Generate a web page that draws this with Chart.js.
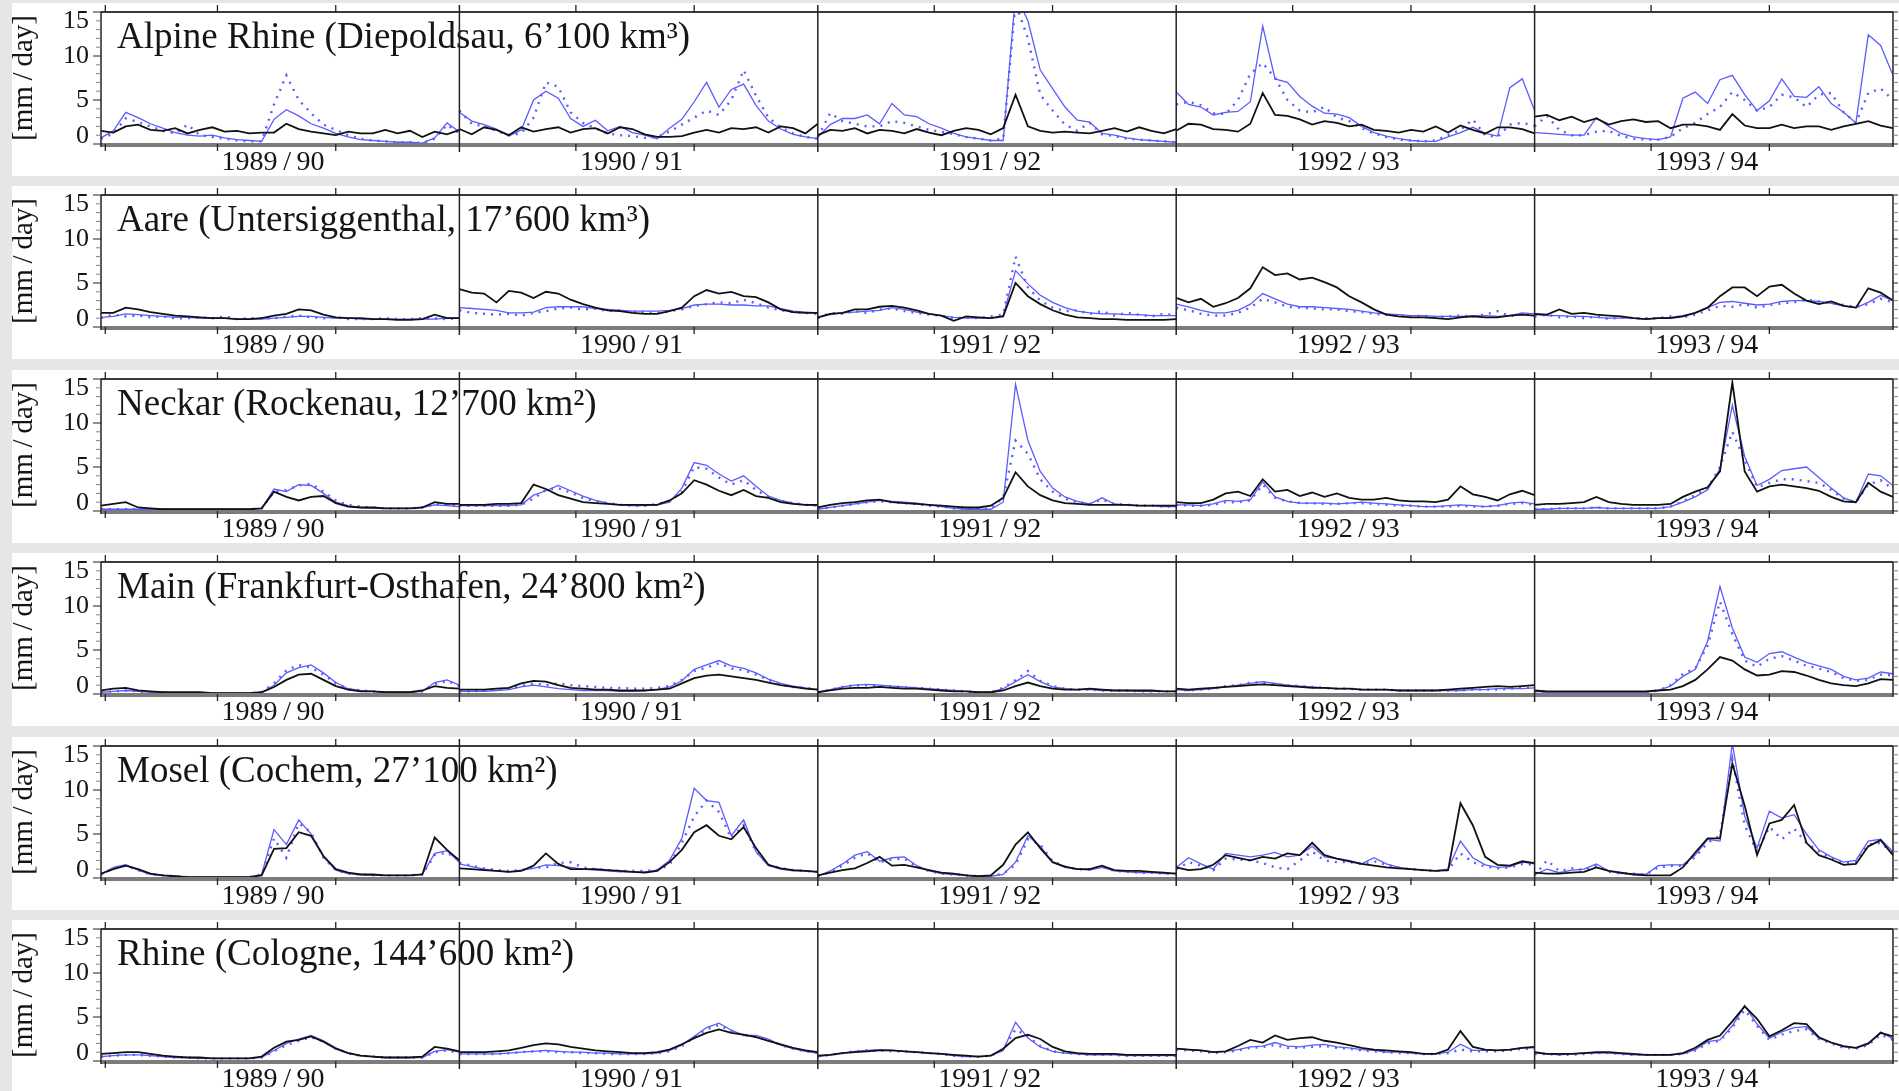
<!DOCTYPE html>
<html>
<head>
<meta charset="utf-8">
<script src="https://cdn.jsdelivr.net/npm/chart.js@4.4.0/dist/chart.umd.min.js"></script>
<style>
  html, body { margin: 0; padding: 0; background: #e6e6e6; }
  body { width: 1899px; height: 1091px; position: relative; overflow: hidden; }
  .row { position: absolute; left: 12px; width: 1887px; height: 173px; background: #fff; }
</style>
</head>
<body>
<script>
// hydrological years, one panel column each
const years = ["1989/90", "1990/91", "1991/92", "1992/93", "1993/94"];
const rivers = [
  "Alpine Rhine (Diepoldsau, 6\u2019100 km\u00b3)",
  "Aare (Untersiggenthal, 17\u2019600 km\u00b3)",
  "Neckar (Rockenau, 12\u2019700 km\u00b2)",
  "Main (Frankfurt-Osthafen, 24\u2019800 km\u00b2)",
  "Mosel (Cochem, 27\u2019100 km\u00b2)",
  "Rhine (Cologne, 144\u2019600 km\u00b2)"
];
const yTicks = [0, 5, 10, 15];
const yLabel = "[mm/day]";

// runoff in mm/day, 30 samples per year (black line, blue line, blue dots)
const alpineBlack = [
  [1.5,1.3,2.0,2.2,1.6,1.5,1.8,1.2,1.6,1.9,1.4,1.5,1.2,1.3,1.3,2.3,1.7,1.4,1.2,1.0,1.4,1.2,1.2,1.6,1.2,1.5,0.8,1.4,1.1,1.6],
  [1.7,1.1,1.9,1.6,1.0,1.9,1.4,1.7,1.9,1.3,1.7,1.8,1.2,1.9,1.7,1.1,0.8,0.8,0.9,1.3,1.6,1.3,1.8,1.7,1.9,1.3,2.0,1.8,1.2,2.3],
  [1.0,1.6,1.5,1.8,1.2,1.6,1.5,1.2,1.7,1.3,1.0,1.5,1.8,1.6,1.1,1.8,5.6,2.0,1.5,1.3,1.4,1.3,1.2,1.5,1.8,1.4,1.9,1.5,1.2,1.7],
  [1.5,2.3,2.2,1.7,1.6,1.4,2.3,5.8,3.3,3.2,2.8,2.2,2.6,2.4,2.0,2.2,1.6,1.5,1.3,1.6,1.4,2.0,1.3,2.1,1.6,1.2,1.9,1.9,1.7,1.2],
  [3.1,3.3,2.7,3.1,2.5,2.9,2.2,2.6,2.8,2.5,2.6,1.8,2.2,2.2,2.0,1.6,3.4,2.1,1.8,1.8,2.2,1.8,2.0,2.0,1.6,2.0,2.3,2.6,2.1,1.8]
];
const alpineBlue = [
  [0.7,1.5,3.6,3.0,2.3,1.8,1.3,1.0,0.9,1.0,0.7,0.5,0.4,0.3,2.8,3.9,3.2,2.3,1.8,1.2,0.8,0.5,0.4,0.3,0.2,0.2,0.1,0.7,2.4,1.4],
  [3.6,2.6,2.2,1.7,0.9,1.6,5.0,6.0,5.2,2.9,2.0,2.7,1.5,2.0,1.3,1.0,0.6,1.8,2.8,4.8,7.0,4.2,6.2,6.8,4.4,2.6,1.7,1.1,0.8,0.6],
  [0.8,2.2,2.9,2.9,3.3,2.3,4.6,3.3,3.1,2.3,1.8,1.2,0.8,0.6,0.4,0.4,17,14,8.4,6.3,4.2,2.7,2.5,1.2,1.0,0.7,0.5,0.4,0.3,0.2],
  [5.9,4.5,4.2,3.3,3.6,3.7,4.8,13.4,7.4,7.0,5.4,4.3,3.5,3.4,3.0,2.0,1.3,0.9,0.6,0.4,0.3,0.3,0.8,1.3,1.9,1.2,0.9,6.4,7.4,3.8],
  [1.3,1.2,1.1,1.0,1.0,3.0,2.0,1.2,0.8,0.6,0.5,0.8,5.2,5.9,4.6,7.3,7.8,5.6,3.8,4.9,7.4,5.4,5.3,6.5,4.6,3.6,2.4,12.4,11.2,7.8]
];
const alpineDots = [
  [0.6,1.2,2.9,2.5,2.0,1.5,1.2,2.2,1.0,0.8,0.6,0.4,0.3,0.3,4.5,7.8,5.0,3.5,2.2,1.6,1.0,0.6,0.4,0.3,0.2,0.2,0.1,0.6,2.2,1.2],
  [3.8,2.3,2.0,1.5,1.0,1.2,3.0,7.0,6.5,3.6,2.4,1.8,1.2,1.0,0.9,0.7,0.8,1.4,2.2,3.0,3.8,3.3,5.0,8.4,5.5,3.0,1.9,1.2,0.8,0.6],
  [0.8,3.5,2.6,2.3,2.0,2.0,2.6,2.4,2.0,1.6,1.4,1.1,0.8,0.6,0.4,0.6,16,12,5.6,3.8,2.2,1.5,2.4,1.1,0.9,0.6,0.5,0.4,0.3,0.2],
  [4.5,4.8,4.4,3.5,3.4,5.0,8.0,9.2,7.5,5.0,3.8,3.6,4.2,3.0,2.6,1.8,1.2,0.8,0.5,0.4,0.3,0.4,1.0,1.6,2.8,1.0,0.8,2.2,2.4,2.1],
  [2.0,3.2,1.6,1.0,1.0,1.4,1.5,0.9,0.6,0.5,0.5,0.8,1.8,2.4,3.4,4.2,5.9,5.0,3.8,4.2,5.6,5.3,4.2,5.6,5.8,3.6,2.4,5.8,6.3,5.0]
];

const aareBlack = [
  [1.6,1.6,2.2,2.0,1.7,1.5,1.3,1.2,1.1,1.0,1.0,0.9,0.9,1.0,1.3,1.5,2.0,1.9,1.4,1.1,1.0,1.0,0.9,0.9,0.8,0.8,0.9,1.4,1.0,1.0],
  [4.3,3.9,3.8,2.8,4.1,3.9,3.3,4.0,3.8,3.1,2.6,2.2,1.9,1.8,1.6,1.5,1.5,1.8,2.2,3.5,4.2,3.8,4.0,3.5,3.4,2.8,2.0,1.7,1.6,1.6],
  [1.1,1.5,1.6,2.0,2.0,2.3,2.4,2.2,1.9,1.5,1.3,0.7,1.2,1.1,1.0,1.2,5.0,3.5,2.6,1.9,1.4,1.1,1.0,0.9,0.9,0.8,0.8,0.8,0.8,0.9],
  [3.3,2.8,3.2,2.3,2.7,3.3,4.4,6.8,5.9,6.1,5.4,5.6,5.1,4.5,3.5,2.8,2.0,1.4,1.2,1.1,1.1,1.0,0.9,1.1,1.2,1.1,1.1,1.3,1.4,1.3],
  [1.5,1.4,2.0,1.5,1.6,1.4,1.3,1.2,1.0,0.9,1.0,1.0,1.2,1.6,2.2,3.5,4.5,4.5,3.5,4.6,4.8,3.8,3.0,2.6,2.9,2.4,2.2,4.4,3.9,3.0]
];
const aareBlue = [
  [1.1,1.2,1.5,1.4,1.3,1.2,1.1,1.1,1.0,1.0,1.0,0.9,0.9,0.9,1.0,1.1,1.2,1.2,1.1,1.0,1.0,0.9,0.9,0.9,0.9,0.9,0.9,0.9,1.0,1.0],
  [2.2,2.1,2.0,1.9,1.6,1.6,1.7,2.2,2.3,2.3,2.3,2.1,2.0,1.9,1.8,1.8,1.8,1.9,2.1,2.5,2.6,2.6,2.5,2.5,2.4,2.4,2.1,1.8,1.7,1.6],
  [1.1,1.4,1.6,1.7,1.8,1.9,2.2,2.0,1.7,1.5,1.3,1.1,1.0,1.0,1.0,1.3,6.4,4.9,3.6,2.8,2.2,1.8,1.6,1.5,1.5,1.4,1.4,1.3,1.3,1.3],
  [2.6,2.3,1.9,1.6,1.6,1.9,2.6,3.8,3.2,2.6,2.3,2.3,2.2,2.1,2.0,1.8,1.6,1.5,1.4,1.3,1.3,1.2,1.2,1.2,1.3,1.3,1.2,1.3,1.6,1.5],
  [1.4,1.3,1.3,1.2,1.2,1.1,1.0,1.0,1.0,0.9,1.0,1.1,1.3,1.6,2.2,2.8,2.9,2.7,2.5,2.6,2.9,3.0,3.0,2.9,2.7,2.4,2.2,2.8,3.6,3.0]
];
const aareDots = [
  [1.0,1.4,1.2,1.3,1.1,1.2,1.0,1.0,1.1,1.0,1.2,0.9,1.0,1.0,1.0,1.2,1.3,1.1,1.0,1.1,0.9,0.9,0.9,1.0,0.9,0.9,1.0,1.0,0.9,1.0],
  [1.9,1.6,1.5,1.4,1.5,1.3,1.6,1.8,2.1,2.2,2.0,2.1,1.8,1.9,1.7,1.7,1.6,1.8,2.0,2.4,2.6,2.8,2.7,3.1,2.7,2.2,1.9,1.7,1.6,1.5],
  [1.0,1.6,1.5,1.8,1.6,2.0,2.1,1.8,1.6,1.4,1.3,1.0,1.1,1.0,1.2,1.4,8.0,4.5,3.0,2.2,1.8,1.9,1.5,1.8,1.3,1.6,1.4,1.2,1.5,1.3],
  [2.2,1.9,1.5,1.3,1.3,1.6,2.2,3.2,2.8,2.3,2.2,2.1,2.0,2.0,1.8,1.7,1.5,1.4,1.3,1.2,1.3,1.1,1.2,1.3,1.2,1.4,1.8,1.2,1.5,1.4],
  [1.2,1.4,1.1,1.2,1.0,1.2,0.9,1.1,1.0,1.0,1.0,1.2,1.1,1.4,1.9,2.4,2.3,2.6,2.2,2.5,2.7,2.8,3.1,2.9,2.7,2.5,2.3,2.6,3.2,2.8]
];

const neckarBlack = [
  [0.6,0.8,1.0,0.4,0.3,0.2,0.2,0.2,0.2,0.2,0.2,0.2,0.2,0.3,2.2,1.6,1.2,1.6,1.7,0.9,0.5,0.4,0.4,0.3,0.3,0.3,0.4,1.0,0.8,0.8],
  [0.7,0.7,0.7,0.8,0.8,0.9,3.0,2.5,1.8,1.4,1.0,0.9,0.8,0.7,0.7,0.7,0.7,1.2,2.0,3.5,3.0,2.3,1.8,2.4,1.7,1.5,1.0,0.8,0.7,0.7],
  [0.4,0.7,0.9,1.0,1.2,1.3,1.0,0.9,0.8,0.7,0.6,0.5,0.4,0.4,0.6,1.5,4.4,2.8,1.8,1.2,0.9,0.8,0.7,0.7,0.7,0.7,0.6,0.6,0.6,0.6],
  [1.0,0.9,0.9,1.3,2.0,2.2,1.7,3.6,2.2,2.4,1.7,2.1,1.6,2.0,1.5,1.3,1.3,1.5,1.2,1.1,1.1,1.0,1.3,2.8,1.9,1.6,1.2,1.9,2.3,1.8],
  [0.7,0.8,0.8,0.9,1.0,1.6,1.0,0.8,0.7,0.7,0.7,0.8,1.6,2.2,2.7,4.5,14.6,4.5,2.2,2.8,3.0,2.8,2.6,2.3,1.6,1.1,1.0,3.2,2.2,1.6]
];
const neckarBlue = [
  [0.2,0.2,0.2,0.2,0.2,0.2,0.2,0.2,0.2,0.2,0.2,0.2,0.2,0.3,2.5,2.2,3.0,2.9,2.0,1.0,0.6,0.4,0.3,0.3,0.3,0.3,0.4,0.7,0.6,0.5],
  [0.6,0.6,0.6,0.6,0.6,0.7,1.8,2.3,2.9,2.3,1.7,1.2,0.9,0.7,0.6,0.6,0.7,1.0,2.6,5.5,5.2,4.2,3.4,4.0,2.8,1.7,1.2,0.9,0.7,0.6],
  [0.2,0.4,0.6,0.8,1.0,1.2,1.1,1.0,0.9,0.7,0.5,0.3,0.2,0.2,0.2,1.0,14.4,8.0,4.5,2.6,1.6,1.1,0.8,1.5,0.8,0.7,0.6,0.6,0.5,0.5],
  [0.7,0.7,0.6,0.8,1.2,1.1,1.3,3.3,1.6,1.1,0.9,0.9,0.9,0.8,0.9,1.0,0.9,0.8,0.7,0.6,0.5,0.5,0.6,0.7,0.6,0.5,0.6,0.9,1.0,0.8],
  [0.2,0.2,0.3,0.3,0.3,0.4,0.3,0.3,0.3,0.3,0.3,0.5,1.0,1.6,2.4,4.8,12.0,6.2,2.9,3.6,4.6,4.8,5.0,3.8,2.6,1.5,1.0,4.2,4.0,2.9]
];
const neckarDots = [
  [0.2,0.2,0.2,0.2,0.2,0.2,0.2,0.2,0.2,0.2,0.2,0.2,0.2,0.3,2.2,2.4,2.9,3.1,2.2,1.2,0.7,0.5,0.4,0.3,0.3,0.3,0.4,0.8,0.7,0.6],
  [0.6,0.6,0.6,0.6,0.6,0.7,1.4,2.4,2.6,2.1,1.5,1.1,0.9,0.7,0.6,0.6,0.8,1.1,2.2,5.0,4.8,3.8,3.0,3.5,2.4,1.6,1.1,0.9,0.7,0.6],
  [0.2,0.4,0.6,0.8,1.0,1.1,1.0,0.9,0.8,0.6,0.5,0.3,0.2,0.2,0.3,1.5,8.0,6.5,3.6,2.2,1.4,1.0,0.8,1.3,0.8,0.7,0.6,0.6,0.5,0.5],
  [0.7,0.6,0.6,0.7,1.0,1.0,1.2,3.0,1.5,1.1,0.9,0.9,0.8,0.8,0.9,0.9,0.8,0.7,0.6,0.6,0.5,0.5,0.5,0.6,0.5,0.5,0.6,0.8,0.9,0.7],
  [0.2,0.2,0.3,0.3,0.3,0.4,0.3,0.3,0.3,0.3,0.3,0.5,1.1,1.8,2.6,5.0,9.0,5.8,2.7,3.2,3.6,3.6,3.4,3.2,2.4,1.4,1.0,3.0,3.5,2.5]
];

const mainBlack = [
  [0.4,0.6,0.7,0.4,0.3,0.2,0.2,0.2,0.2,0.1,0.1,0.1,0.1,0.2,0.8,1.6,2.2,2.3,1.6,0.9,0.5,0.3,0.3,0.2,0.2,0.2,0.4,0.9,0.7,0.6],
  [0.5,0.5,0.5,0.6,0.7,1.2,1.5,1.4,1.0,0.7,0.6,0.5,0.5,0.4,0.4,0.4,0.5,0.6,1.2,1.8,2.1,2.2,2.0,1.8,1.6,1.3,1.0,0.8,0.6,0.5],
  [0.2,0.4,0.6,0.7,0.7,0.8,0.7,0.6,0.6,0.5,0.4,0.3,0.3,0.2,0.2,0.4,0.9,1.3,0.9,0.6,0.5,0.5,0.6,0.5,0.4,0.4,0.4,0.4,0.3,0.3],
  [0.6,0.5,0.6,0.7,0.8,0.9,1.0,1.1,1.0,0.9,0.8,0.7,0.7,0.6,0.6,0.5,0.5,0.5,0.4,0.4,0.4,0.4,0.5,0.6,0.7,0.8,0.9,0.8,0.9,1.0],
  [0.4,0.3,0.3,0.3,0.3,0.3,0.3,0.3,0.3,0.3,0.4,0.5,0.9,1.6,2.8,4.2,3.8,2.8,2.1,2.2,2.6,2.5,2.1,1.6,1.2,1.0,0.9,1.2,1.7,1.6]
];
const mainBlue = [
  [0.2,0.3,0.4,0.3,0.2,0.2,0.1,0.1,0.1,0.1,0.1,0.1,0.1,0.2,1.0,2.4,3.0,3.3,2.4,1.3,0.6,0.4,0.3,0.2,0.2,0.2,0.3,1.3,1.6,1.0],
  [0.3,0.3,0.3,0.4,0.5,0.8,1.0,0.8,0.6,0.5,0.4,0.4,0.4,0.3,0.3,0.4,0.5,0.8,1.5,2.8,3.3,3.8,3.2,2.9,2.4,1.7,1.2,0.9,0.7,0.5],
  [0.2,0.5,0.8,1.0,1.1,1.0,0.9,0.8,0.7,0.6,0.5,0.4,0.3,0.2,0.2,0.6,1.4,2.2,1.4,0.8,0.6,0.5,0.5,0.4,0.4,0.4,0.3,0.3,0.3,0.3],
  [0.5,0.4,0.5,0.6,0.8,1.0,1.2,1.4,1.2,1.0,0.9,0.8,0.7,0.6,0.6,0.5,0.5,0.5,0.4,0.4,0.4,0.4,0.4,0.4,0.5,0.5,0.6,0.6,0.6,0.7],
  [0.3,0.2,0.2,0.2,0.2,0.2,0.2,0.2,0.2,0.2,0.4,0.9,2.0,2.8,6.0,12.2,7.5,4.2,3.6,4.6,4.8,4.2,3.6,3.2,2.8,2.0,1.6,1.8,2.5,2.3]
];
const mainDots = [
  [0.2,0.3,0.4,0.3,0.2,0.2,0.1,0.1,0.1,0.1,0.1,0.1,0.1,0.2,1.2,2.7,3.3,3.0,2.2,1.2,0.6,0.4,0.3,0.2,0.2,0.2,0.3,1.1,1.5,0.9],
  [0.3,0.3,0.4,0.5,0.6,0.9,1.2,1.0,1.2,1.0,0.9,0.8,0.7,0.7,0.6,0.6,0.7,0.9,1.6,2.6,3.0,3.5,2.9,2.7,2.2,1.6,1.1,0.8,0.7,0.5],
  [0.2,0.5,0.8,1.0,1.0,0.9,0.9,0.7,0.7,0.6,0.5,0.4,0.3,0.2,0.2,0.7,1.6,2.6,1.5,0.9,0.6,0.5,0.5,0.4,0.4,0.4,0.3,0.3,0.3,0.3],
  [0.5,0.4,0.5,0.6,0.9,1.0,1.3,1.3,1.1,1.0,0.9,0.8,0.7,0.6,0.6,0.5,0.5,0.5,0.4,0.4,0.4,0.4,0.4,0.4,0.5,0.5,0.5,0.6,0.7,0.7],
  [0.3,0.2,0.2,0.2,0.2,0.2,0.2,0.2,0.2,0.2,0.4,1.0,2.3,2.9,5.5,10.5,6.8,3.8,3.1,4.0,4.3,3.8,3.2,2.9,2.5,1.8,1.5,1.6,2.2,2.1]
];

const moselBlack = [
  [0.5,1.0,1.4,1.0,0.5,0.3,0.2,0.1,0.1,0.1,0.1,0.1,0.1,0.3,3.3,3.4,5.2,4.8,2.5,1.0,0.6,0.4,0.4,0.3,0.3,0.3,0.4,4.6,3.2,2.0],
  [1.1,1.0,0.9,0.8,0.7,0.8,1.4,2.8,1.6,1.0,1.0,1.0,0.9,0.8,0.7,0.6,0.8,1.8,3.2,5.2,6.0,4.8,4.4,5.8,3.4,1.5,1.1,0.9,0.8,0.7],
  [0.3,0.6,0.9,1.1,1.7,2.4,1.4,1.5,1.2,0.9,0.6,0.5,0.3,0.2,0.3,1.5,3.8,5.2,3.4,1.8,1.3,1.0,1.0,1.4,0.9,0.8,0.8,0.7,0.6,0.5],
  [1.2,0.9,1.0,1.5,2.6,2.3,2.0,2.4,2.2,2.8,2.6,4.0,2.6,2.2,1.9,1.6,1.4,1.2,1.1,1.0,0.9,0.8,0.9,8.5,6.0,2.4,1.5,1.4,1.9,1.7],
  [0.6,0.5,0.5,0.6,0.7,1.2,0.8,0.6,0.4,0.3,0.3,0.3,1.2,2.9,4.5,4.5,13.0,8.2,2.6,6.2,6.6,8.3,4.0,2.6,2.1,1.5,1.6,3.6,4.3,2.6]
];
const moselBlue = [
  [0.4,1.2,1.5,0.9,0.4,0.3,0.2,0.1,0.1,0.1,0.1,0.1,0.1,0.4,5.5,3.8,6.6,5.0,2.4,0.9,0.5,0.4,0.3,0.3,0.3,0.3,0.4,2.8,3.1,1.8],
  [1.6,1.3,1.0,0.8,0.7,0.9,1.1,1.5,1.4,1.2,1.0,0.9,0.8,0.7,0.7,0.7,0.9,2.0,4.5,10.2,8.8,8.6,4.8,6.6,3.0,1.4,1.0,0.8,0.8,0.7],
  [0.2,0.8,1.6,2.6,3.0,1.9,2.3,2.4,1.4,0.8,0.5,0.4,0.3,0.2,0.2,0.4,1.8,4.8,3.6,1.8,1.2,1.0,0.9,1.2,0.8,0.7,0.6,0.6,0.5,0.5],
  [1.2,2.3,1.6,1.0,2.8,2.6,2.4,2.6,2.9,2.4,2.6,3.6,2.4,2.2,2.0,1.6,2.3,1.6,1.2,1.0,0.9,0.8,1.0,4.2,2.3,1.5,1.2,1.3,1.8,1.6],
  [0.4,1.0,0.6,0.9,1.0,1.6,0.8,0.5,0.5,0.4,1.4,1.5,1.5,2.6,4.4,4.2,15.3,7.0,3.4,7.6,6.8,7.2,5.0,3.2,2.4,1.8,2.0,4.2,4.4,3.0]
];
const moselDots = [
  [0.4,1.1,1.4,0.9,0.4,0.3,0.2,0.1,0.1,0.1,0.1,0.1,0.1,0.4,4.5,2.3,6.2,5.2,2.3,0.9,0.5,0.4,0.3,0.3,0.3,0.3,0.4,2.6,2.9,2.0],
  [1.7,1.4,1.1,0.9,0.8,0.9,1.2,1.2,1.7,1.8,1.2,1.0,0.9,0.8,0.8,0.8,0.9,1.5,4.0,7.0,8.8,7.5,4.5,6.0,3.0,1.5,1.1,0.9,0.8,0.7],
  [0.2,0.7,1.4,2.3,2.8,1.8,2.1,2.2,1.3,0.8,0.5,0.4,0.3,0.2,0.2,0.5,1.5,4.4,3.8,1.9,1.3,1.0,1.0,1.3,0.8,0.7,0.6,0.6,0.5,0.5],
  [1.0,1.8,1.4,0.9,2.2,2.1,2.0,1.7,1.2,1.0,2.0,3.0,2.0,1.8,1.8,1.6,1.9,1.5,1.2,1.0,0.9,0.8,0.9,2.8,1.8,1.3,1.1,1.2,1.6,1.5],
  [0.3,2.0,0.8,1.1,0.9,1.4,0.7,0.5,0.5,0.4,1.2,1.4,1.4,2.4,4.0,4.8,13.5,6.0,3.0,5.8,4.4,5.6,4.0,3.0,2.2,1.7,1.8,3.8,4.0,2.8]
];

const rhineBlack = [
  [0.8,0.9,1.0,1.0,0.8,0.6,0.5,0.4,0.4,0.3,0.3,0.3,0.3,0.5,1.5,2.2,2.4,2.8,2.2,1.4,0.9,0.6,0.5,0.4,0.4,0.4,0.5,1.6,1.4,1.1],
  [1.0,1.0,1.0,1.1,1.2,1.5,1.8,2.0,1.9,1.6,1.4,1.2,1.1,1.0,0.9,0.9,1.0,1.3,1.9,2.6,3.2,3.6,3.2,3.0,2.7,2.3,1.9,1.5,1.2,1.0],
  [0.6,0.7,0.9,1.0,1.1,1.2,1.2,1.1,1.0,0.9,0.8,0.7,0.6,0.5,0.6,1.4,2.6,3.0,2.5,1.6,1.1,0.9,0.8,0.8,0.8,0.7,0.7,0.7,0.7,0.7],
  [1.4,1.3,1.2,1.0,1.1,1.7,2.4,2.1,2.9,2.4,2.6,2.7,2.3,2.1,1.8,1.5,1.3,1.2,1.1,1.0,0.8,0.8,1.3,3.4,1.6,1.3,1.2,1.3,1.5,1.6],
  [1.0,0.8,0.8,0.8,0.9,1.0,1.0,0.9,0.8,0.7,0.7,0.7,0.9,1.5,2.4,2.9,4.5,6.2,4.8,2.8,3.5,4.3,4.2,2.7,2.1,1.7,1.5,2.0,3.2,2.8]
];
const rhineBlue = [
  [0.5,0.6,0.7,0.7,0.6,0.5,0.4,0.4,0.3,0.3,0.3,0.3,0.3,0.4,1.2,2.0,2.5,2.9,2.3,1.5,0.9,0.6,0.5,0.4,0.4,0.4,0.4,1.1,1.3,1.0],
  [0.8,0.8,0.8,0.8,0.9,1.0,1.1,1.2,1.1,1.0,1.0,0.9,0.9,0.8,0.8,0.8,0.9,1.2,1.8,2.8,3.8,4.3,3.5,2.9,2.9,2.5,1.8,1.4,1.1,0.9],
  [0.5,0.7,0.9,1.1,1.2,1.3,1.2,1.1,1.0,0.9,0.8,0.6,0.5,0.5,0.6,1.2,4.4,2.6,1.6,1.1,0.9,0.8,0.7,0.7,0.7,0.6,0.6,0.6,0.6,0.6],
  [1.4,1.3,1.2,1.0,1.1,1.3,1.6,1.7,2.1,1.7,1.6,1.8,1.9,1.6,1.5,1.3,1.2,1.0,1.0,0.9,0.8,0.8,1.0,1.9,1.2,1.2,1.2,1.3,1.5,1.5],
  [0.9,0.8,0.7,0.8,0.9,0.9,0.9,0.8,0.7,0.7,0.7,0.7,0.8,1.3,2.2,2.4,4.0,6.3,4.2,2.6,3.3,3.8,3.9,2.6,2.1,1.6,1.5,1.9,3.3,2.5]
];
const rhineDots = [
  [0.5,0.6,0.7,0.7,0.6,0.5,0.4,0.4,0.3,0.3,0.3,0.3,0.3,0.4,1.1,1.8,2.3,2.7,2.2,1.4,0.9,0.6,0.5,0.4,0.4,0.4,0.4,1.0,1.2,0.9],
  [0.8,0.8,0.8,0.8,0.9,1.0,1.1,1.1,1.0,1.0,0.9,0.9,0.8,0.8,0.8,0.8,0.9,1.1,1.7,2.7,3.6,4.1,3.4,2.9,2.8,2.4,1.8,1.4,1.1,0.9],
  [0.5,0.7,0.9,1.1,1.2,1.2,1.1,1.1,1.0,0.9,0.8,0.6,0.5,0.5,0.6,1.3,3.6,2.8,1.7,1.1,0.9,0.8,0.7,0.7,0.7,0.6,0.6,0.6,0.6,0.6],
  [1.3,1.2,1.1,0.9,1.0,1.2,1.5,1.6,1.8,1.5,1.5,1.6,1.7,1.5,1.4,1.2,1.1,1.0,0.9,0.9,0.8,0.8,0.9,1.3,1.1,1.1,1.1,1.2,1.4,1.4],
  [0.8,0.8,0.7,0.7,0.8,0.9,0.9,0.8,0.7,0.7,0.7,0.7,0.8,1.2,2.0,2.3,3.8,5.8,4.0,2.4,3.0,3.4,3.6,2.5,2.0,1.5,1.4,1.8,3.0,2.4]
];

const blackSeries = [alpineBlack, aareBlack, neckarBlack, mainBlack, moselBlack, rhineBlack];
const blueSeries = [alpineBlue, aareBlue, neckarBlue, mainBlue, moselBlue, rhineBlue];
const dotSeries = [alpineDots, aareDots, neckarDots, mainDots, moselDots, rhineDots];

// layout
const rowTops = [3, 186, 370, 553, 737, 920];
const ROW_W = 1887, ROW_H = 173;
const BLUE = "#5b5bff";
const SERIF = '"Liberation Serif", "Times New Roman", serif';

// one year per unit on the x scale; null breaks the line between years
function toPoints(cols) {
  const pts = [];
  cols.forEach((vals, c) => {
    vals.forEach((v, i) => pts.push({ x: c + i / (vals.length - 1), y: v }));
    if (c < cols.length - 1) pts.push({ x: c + 1, y: null });
  });
  return pts;
}

function seg(ctx, x1, y1, x2, y2) {
  ctx.beginPath();
  ctx.moveTo(x1, y1);
  ctx.lineTo(x2, y2);
  ctx.stroke();
}

const panelFrame = {
  id: "panelFrame",
  beforeDatasetsDraw(chart, args, opts) {
    const { ctx, chartArea: a } = chart;
    ctx.save();
    ctx.fillStyle = "#151515";
    ctx.font = "37px " + SERIF;
    ctx.textAlign = "left";
    ctx.textBaseline = "alphabetic";
    ctx.fillText(opts.title, a.left + 16, a.top + 36);
    ctx.restore();
  },
  afterDatasetsDraw(chart) {
    const { ctx, chartArea: a, scales: { x, y } } = chart;
    ctx.save();

    // frame
    ctx.strokeStyle = "#3a3a3a";
    ctx.lineWidth = 2;
    seg(ctx, a.left, a.top, a.right, a.top);
    ctx.strokeStyle = "#7c7c7c";
    ctx.lineWidth = 4;
    seg(ctx, a.left, a.bottom + 1, a.right, a.bottom + 1);
    ctx.strokeStyle = "#222";
    ctx.lineWidth = 1.5;
    seg(ctx, a.left, a.top, a.left, a.bottom + 3);
    seg(ctx, a.right, a.top, a.right, a.bottom + 3);

    // y ticks, every 1 mm/day, outward on both sides
    for (let v = 0; v <= 15; v++) {
      const py = y.getPixelForValue(v);
      const major = yTicks.includes(v);
      ctx.strokeStyle = major ? "#222" : "#808080";
      ctx.lineWidth = 1;
      seg(ctx, a.left - (major ? 8 : 5), py, a.left, py);
      seg(ctx, a.right, py, a.right + 5, py);
    }

    // year separators and seasonal ticks
    ctx.strokeStyle = "#222";
    ctx.lineWidth = 1.5;
    for (let c = 1; c < years.length; c++) {
      const px = x.getPixelForValue(c);
      seg(ctx, px, a.top - 7, px, a.bottom + 8);
    }
    ctx.lineWidth = 1.3;
    const marks = [0.012];
    for (let c = 0; c < years.length; c++) marks.push(c + 0.325, c + 0.655);
    marks.forEach(m => {
      const px = x.getPixelForValue(m);
      seg(ctx, px, a.top - 7, px, a.top);
      seg(ctx, px, a.bottom, px, a.bottom + 7);
    });

    // tick labels
    ctx.fillStyle = "#151515";
    ctx.font = "26px " + SERIF;
    ctx.textAlign = "right";
    ctx.textBaseline = "middle";
    yTicks.forEach(v => {
      let py = y.getPixelForValue(v);
      if (v === 15) py += 9;
      if (v === 0) py -= 8;
      ctx.fillText(String(v), a.left - 12, py);
    });

    ctx.font = "28px " + SERIF;
    ctx.textAlign = "center";
    years.forEach((yr, c) => {
      ctx.fillText(yr.replace("/", "\u2009/\u2009"), x.getPixelForValue(c + 0.48), a.bottom + 19);
    });

    // axis title
    ctx.translate(12, (a.top + a.bottom) / 2);
    ctx.rotate(-Math.PI / 2);
    ctx.font = "29px " + SERIF;
    ctx.fillText(yLabel.replace("/", "\u2009/\u2009"), 0, 0);
    ctx.restore();
  }
};

rivers.forEach((title, r) => {
  const box = document.createElement("div");
  box.className = "row";
  box.style.top = rowTops[r] + "px";
  const canvas = document.createElement("canvas");
  canvas.width = ROW_W;
  canvas.height = ROW_H;
  box.appendChild(canvas);
  document.body.appendChild(box);

  new Chart(canvas.getContext("2d"), {
    type: "line",
    data: {
      datasets: [
        { data: toPoints(blackSeries[r]), borderColor: "#111", borderWidth: 1.8, order: 1 },
        { data: toPoints(blueSeries[r]), borderColor: BLUE, borderWidth: 1.3, order: 2 },
        { data: toPoints(dotSeries[r]), borderColor: BLUE, borderWidth: 2.4, borderDash: [2, 6], order: 3 }
      ]
    },
    options: {
      responsive: false,
      animation: false,
      devicePixelRatio: 1,
      layout: { padding: { left: 89, right: 6, top: 9, bottom: 32 } },
      elements: { point: { radius: 0 }, line: { tension: 0 } },
      scales: {
        x: { type: "linear", min: 0, max: years.length, display: false },
        y: { min: 0, max: 15, display: false }
      },
      plugins: {
        legend: { display: false },
        tooltip: { enabled: false },
        panelFrame: { title }
      }
    },
    plugins: [panelFrame]
  });
});
</script>
</body>
</html>
